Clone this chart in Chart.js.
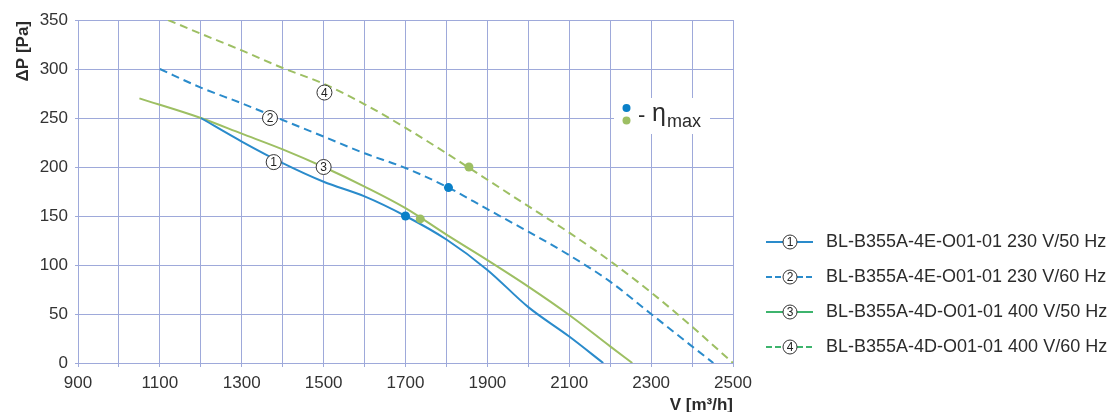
<!DOCTYPE html>
<html>
<head>
<meta charset="utf-8">
<script src="https://cdn.jsdelivr.net/npm/chart.js@4.4.1/dist/chart.umd.min.js"></script>
<style>
  html, body { margin: 0; padding: 0; background: #fff; }
  #wrap { position: relative; width: 1112px; height: 412px; }
</style>
</head>
<body>
<div id="wrap"><canvas id="chart" width="1112" height="412"></canvas></div>
<script>
// --- curve data (V in m3/h, dP in Pa) ---
const flow1 = [1200, 1300, 1400, 1500, 1600, 1700, 1800, 1900, 2000, 2100, 2183];
const dp1   = [250, 226, 204, 185, 170, 150, 126, 95, 57, 27, 0];

const flow2 = [1100, 1200, 1300, 1400, 1500, 1600, 1700, 1800, 1900, 2000, 2100, 2200, 2300, 2400, 2452];
const dp2   = [300, 281, 265, 248, 231, 214, 199, 180, 157, 134, 110, 83, 50, 17, 0];

const flow3 = [1050, 1200, 1300, 1400, 1500, 1600, 1700, 1800, 1900, 2000, 2100, 2200, 2254];
const dp3   = [270, 250, 234, 218, 200, 180, 158, 131, 105, 78, 49, 17, 0];

const flow4 = [1120, 1200, 1300, 1400, 1500, 1600, 1700, 1800, 1900, 2000, 2100, 2200, 2300, 2400, 2500];
const dp4   = [350, 336, 319, 301, 285, 264, 240, 214, 187, 160, 133, 104, 72, 37, 0];

// max efficiency points
const etaFlowBlue  = [1700, 1805];
const etaDpBlue    = [150, 179];
const etaFlowGreen = [1736, 1855];
const etaDpGreen   = [147, 200];

// circled curve numbers on the plot
const curveNumbers = ['1', '2', '3', '4'];
const numberFlow   = [1378, 1369, 1500, 1502];
const numberDp     = [205, 250, 200, 276];

const legendNames = [
  'BL-B355A-4E-O01-01 230 V/50 Hz',
  'BL-B355A-4E-O01-01 230 V/60 Hz',
  'BL-B355A-4D-O01-01 400 V/50 Hz',
  'BL-B355A-4D-O01-01 400 V/60 Hz'
];

const BLUE = '#2a8bcb';
const GREEN = '#9dbf63';
const LEG_GREEN = '#3db46d';
const GRID = '#9ea9da';
const TEXT = '#2b2b2b';
const FONT = "'Liberation Sans', Arial, sans-serif";

const toPoints = (xs, ys) => xs.map((x, i) => ({ x: x, y: ys[i] }));

function circledNumber(ctx, x, y, r, txt, size) {
  ctx.save();
  ctx.setLineDash([]);
  ctx.beginPath();
  ctx.arc(x, y, r, 0, Math.PI * 2);
  ctx.fillStyle = '#fff';
  ctx.fill();
  ctx.lineWidth = 1;
  ctx.strokeStyle = '#333';
  ctx.stroke();
  ctx.fillStyle = '#222';
  ctx.font = size + 'px ' + FONT;
  ctx.textAlign = 'center';
  ctx.textBaseline = 'middle';
  ctx.fillText(txt, x, y + 1);
  ctx.restore();
}

const extras = {
  id: 'extras',
  afterDatasetsDraw(chart) {
    const ctx = chart.ctx;
    const xs = chart.scales.x, ys = chart.scales.y;
    curveNumbers.forEach((n, i) => {
      circledNumber(ctx, xs.getPixelForValue(numberFlow[i]), ys.getPixelForValue(numberDp[i]), 7.5, n, 12);
    });
  },
  afterDraw(chart) {
    const ctx = chart.ctx;
    ctx.save();

    // eta max box
    ctx.fillStyle = '#fff';
    ctx.fillRect(614, 98, 96, 36);
    ctx.fillStyle = '#0a80c8';
    ctx.beginPath(); ctx.arc(626.5, 108, 4, 0, Math.PI * 2); ctx.fill();
    ctx.fillStyle = GREEN;
    ctx.beginPath(); ctx.arc(626.5, 120.5, 4, 0, Math.PI * 2); ctx.fill();
    ctx.fillStyle = TEXT;
    ctx.textBaseline = 'alphabetic';
    ctx.textAlign = 'left';
    ctx.font = '22px ' + FONT;
    ctx.fillText('-', 638, 122);
    ctx.font = '25px ' + FONT;
    ctx.fillText('η', 652, 121);
    ctx.font = '18px ' + FONT;
    ctx.fillText('max', 667, 127);

    // axis titles
    ctx.font = 'bold 17px ' + FONT;
    ctx.textAlign = 'right';
    ctx.fillText('V [m³/h]', 733, 410);
    ctx.save();
    ctx.translate(28, 21);
    ctx.rotate(-Math.PI / 2);
    ctx.textAlign = 'right';
    ctx.fillText('ΔP [Pa]', 0, 0);
    ctx.restore();

    // legend
    const rowY = [242, 277, 312, 347];
    legendNames.forEach((name, i) => {
      const y = rowY[i];
      const col = i < 2 ? BLUE : LEG_GREEN;
      ctx.strokeStyle = col;
      ctx.lineWidth = 2;
      ctx.setLineDash(i % 2 ? [6, 3] : []);
      ctx.beginPath();
      ctx.moveTo(766, y); ctx.lineTo(783, y);
      ctx.moveTo(797, y); ctx.lineTo(813, y);
      ctx.stroke();
      ctx.setLineDash([]);
      circledNumber(ctx, 790, y, 7, curveNumbers[i], 12);
      ctx.fillStyle = TEXT;
      ctx.font = '18px ' + FONT;
      ctx.textAlign = 'left';
      ctx.textBaseline = 'middle';
      ctx.fillText(name, 826, y);
    });
    ctx.restore();
  }
};

const lineDs = (xs, ys, color, dashed) => ({
  type: 'line',
  data: toPoints(xs, ys),
  borderColor: color,
  borderWidth: 2,
  borderDash: dashed ? [8, 5] : [],
  pointRadius: 0,
  fill: false,
  cubicInterpolationMode: 'monotone',
  order: 1
});

const etaDs = (xs, ys, color) => ({
  type: 'scatter',
  data: toPoints(xs, ys),
  backgroundColor: color,
  borderWidth: 0,
  pointRadius: 4.5,
  order: 0
});

new Chart(document.getElementById('chart'), {
  type: 'line',
  data: {
    datasets: [
      lineDs(flow1, dp1, BLUE, false),
      lineDs(flow2, dp2, BLUE, true),
      lineDs(flow3, dp3, GREEN, false),
      lineDs(flow4, dp4, GREEN, true),
      etaDs(etaFlowBlue, etaDpBlue, '#0a80c8'),
      etaDs(etaFlowGreen, etaDpGreen, GREEN)
    ]
  },
  options: {
    responsive: false,
    animation: false,
    layout: { padding: { left: 0, top: 20, right: 379, bottom: 0 } },
    plugins: { legend: { display: false }, tooltip: { enabled: false } },
    scales: {
      x: {
        type: 'linear',
        min: 900, max: 2500,
        afterFit: s => { s.height = 49; },
        ticks: {
          stepSize: 100, autoSkip: false, maxRotation: 0, padding: 6,
          color: '#333', font: { family: FONT, size: 17 },
          callback: v => ((v - 900) % 200 === 0 ? String(v) : '')
        },
        grid: { color: GRID, lineWidth: 1, tickLength: 4 },
        border: { color: GRID, width: 1 }
      },
      y: {
        min: 0, max: 350,
        afterFit: s => { s.width = 78; },
        ticks: { stepSize: 50, padding: 7, color: '#333', font: { family: FONT, size: 17 } },
        grid: { color: GRID, lineWidth: 1, tickLength: 3 },
        border: { color: GRID, width: 1 }
      }
    }
  },
  plugins: [extras]
});
</script>
</body>
</html>
